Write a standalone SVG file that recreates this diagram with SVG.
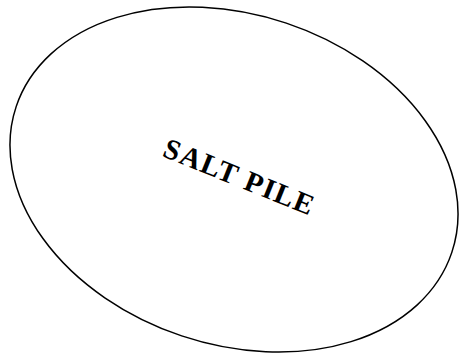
<svg xmlns="http://www.w3.org/2000/svg" width="460" height="354" viewBox="0 0 460 354">
<style>
.outline{fill:none;stroke:#000;stroke-width:1.5}
.label{font-family:"Liberation Serif","Times New Roman",serif;font-size:29px;font-weight:bold;fill:#000;text-anchor:middle}
</style>
<rect width="460" height="354" fill="#fff"/>
<g id="salt-pile">
<ellipse class="outline" cx="234" cy="179.5" rx="229.7" ry="164.9" transform="rotate(18.5 234 179.5)"/>
<text class="label" transform="translate(236 186) rotate(22)" x="0" y="0" letter-spacing="1.5">SALT PILE</text>
</g>
</svg>
